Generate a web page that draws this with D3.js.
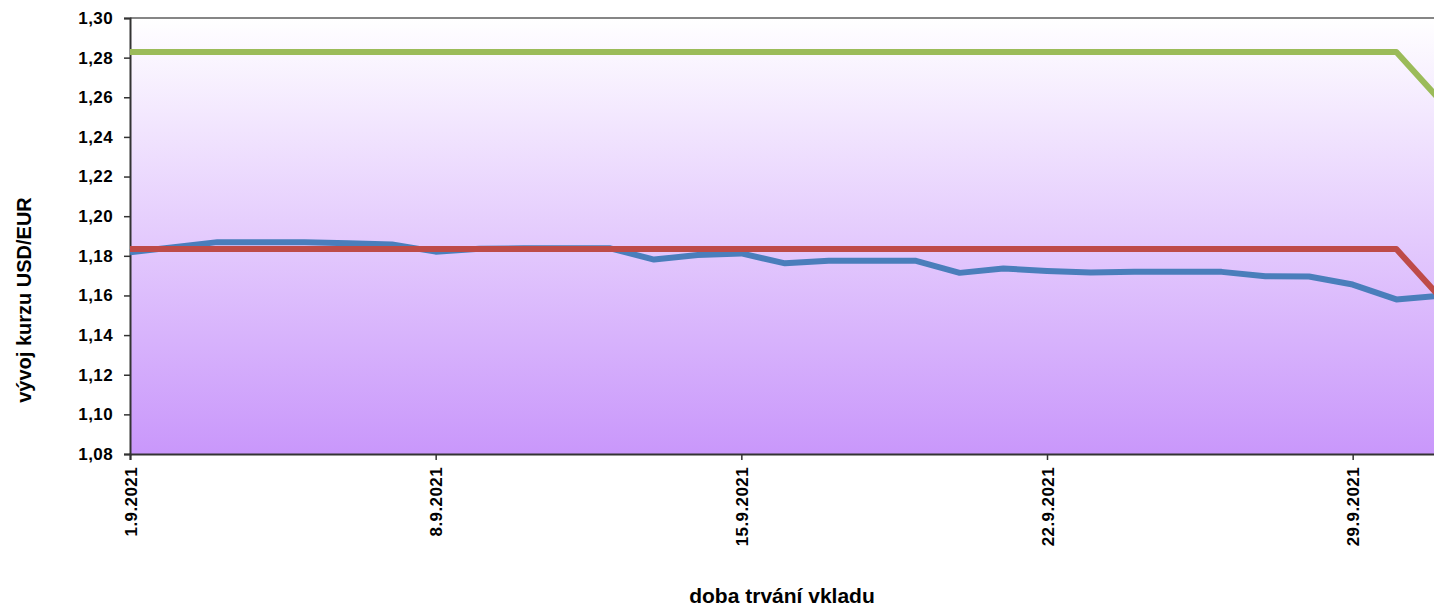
<!DOCTYPE html>
<html lang="cs">
<head>
<meta charset="UTF-8">
<title>vývoj kurzu USD/EUR</title>
<script src="https://d3js.org/d3.v7.min.js"></script>
<style>
    body { margin: 0; background: #fff; }
    svg { display: block; }
    .tick text { font-family: "Liberation Sans", Arial, sans-serif; font-weight: bold; font-size: 17px; fill: #000; letter-spacing: 0.4px; }
    .axis-title { font-family: "Liberation Sans Narrow", "Arial Narrow", sans-serif; font-weight: bold; fill: #000; }
</style>
</head>
<body>
<div id="chart"></div>
<script>
    // daily values, 1.9.2021 .. 1.10.2021 (weekends carry Friday's value)
    const dates = d3.timeDay.range(new Date(2021, 8, 1), new Date(2021, 9, 2));
    const kurz = [1.1818, 1.1843, 1.1869, 1.1869, 1.1868, 1.1863, 1.1857, 1.1821, 1.1836, 1.1838,
                  1.1838, 1.1838, 1.1781, 1.1804, 1.1812, 1.1762, 1.1775, 1.1775, 1.1775, 1.1714,
                  1.1736, 1.1724, 1.1716, 1.1719, 1.1719, 1.1719, 1.1697, 1.1696, 1.1655, 1.1580,
                  1.1598];
    const dolni = [1.1834, 1.1834, 1.1834, 1.1834, 1.1834, 1.1834, 1.1834, 1.1834, 1.1834, 1.1834,
                   1.1834, 1.1834, 1.1834, 1.1834, 1.1834, 1.1834, 1.1834, 1.1834, 1.1834, 1.1834,
                   1.1834, 1.1834, 1.1834, 1.1834, 1.1834, 1.1834, 1.1834, 1.1834, 1.1834, 1.1834,
                   1.1592];
    const horni = [1.2828, 1.2828, 1.2828, 1.2828, 1.2828, 1.2828, 1.2828, 1.2828, 1.2828, 1.2828,
                   1.2828, 1.2828, 1.2828, 1.2828, 1.2828, 1.2828, 1.2828, 1.2828, 1.2828, 1.2828,
                   1.2828, 1.2828, 1.2828, 1.2828, 1.2828, 1.2828, 1.2828, 1.2828, 1.2828, 1.2828,
                   1.2586];
    const yTicks = [1.08, 1.10, 1.12, 1.14, 1.16, 1.18, 1.20, 1.22, 1.24, 1.26, 1.28, 1.30];
    const xTicks = d3.timeDay.range(new Date(2021, 8, 1), new Date(2021, 9, 1), 7);

    const width = 1434, height = 616;
    const plotL = 130, plotT = 18, plotB = 454, plotR = 1440;

    const x = d3.scaleTime()
        .domain([new Date(2021, 8, 1), new Date(2021, 9, 1)])
        .range([plotL, plotR]);
    const y = d3.scaleLinear()
        .domain([1.08, 1.30])
        .range([plotB, plotT]);

    const svg = d3.select("#chart").append("svg")
        .attr("width", width)
        .attr("height", height);

    // plot background gradient
    const grad = svg.append("defs").append("linearGradient")
        .attr("id", "bg")
        .attr("x1", 0).attr("y1", 0).attr("x2", 0).attr("y2", 1);
    grad.append("stop").attr("offset", "0%").attr("stop-color", "#ffffff");
    grad.append("stop").attr("offset", "100%").attr("stop-color", "#c997fb");

    svg.append("rect")
        .attr("x", plotL).attr("y", plotT)
        .attr("width", plotR - plotL).attr("height", plotB - plotT)
        .attr("fill", "url(#bg)");

    // top border of the plot area
    svg.append("line")
        .attr("x1", plotL).attr("x2", plotR)
        .attr("y1", plotT).attr("y2", plotT)
        .attr("stroke", "#868686").attr("stroke-width", 2);

    const fmtY = d3.formatLocale({ decimal: ",", thousands: " ", grouping: [3], currency: ["", ""] }).format(".2f");

    const yAxis = svg.append("g")
        .attr("transform", `translate(${plotL},0)`)
        .call(d3.axisLeft(y).tickValues(yTicks).tickFormat(fmtY).tickSize(6).tickPadding(11));

    const xAxis = svg.append("g")
        .attr("transform", `translate(0,${plotB})`)
        .call(d3.axisBottom(x).tickValues(xTicks).tickFormat(d3.timeFormat("%-d.%-m.%Y")).tickSize(6));

    xAxis.selectAll(".tick text")
        .attr("transform", "rotate(-90)")
        .attr("text-anchor", "end")
        .attr("x", -13)
        .attr("y", 0)
        .attr("dy", "0.36em");

    [yAxis, xAxis].forEach(g => {
        g.select(".domain").attr("stroke", "#333").attr("stroke-width", 2);
        g.selectAll(".tick line").attr("stroke", "#333").attr("stroke-width", 1.5);
    });

    // lines
    const line = d3.line()
        .x((d, i) => x(dates[i]))
        .y(d => y(d));

    const series = [
        { values: kurz, color: "#4a7ebb" },
        { values: dolni, color: "#be4b48" },
        { values: horni, color: "#9bbb59" }
    ];

    svg.append("g").selectAll("path")
        .data(series)
        .join("path")
        .attr("d", d => line(d.values))
        .attr("fill", "none")
        .attr("stroke", d => d.color)
        .attr("stroke-width", 6)
        .attr("stroke-linejoin", "round");

    // axis titles
    svg.append("text")
        .attr("class", "axis-title")
        .attr("transform", "translate(31,300) rotate(-90)")
        .attr("text-anchor", "middle")
        .style("font-size", "20px")
        .text("vývoj kurzu USD/EUR");

    svg.append("text")
        .attr("class", "axis-title")
        .attr("x", 782)
        .attr("y", 603)
        .attr("text-anchor", "middle")
        .style("font-size", "21px")
        .text("doba trvání vkladu");
</script>
</body>
</html>
